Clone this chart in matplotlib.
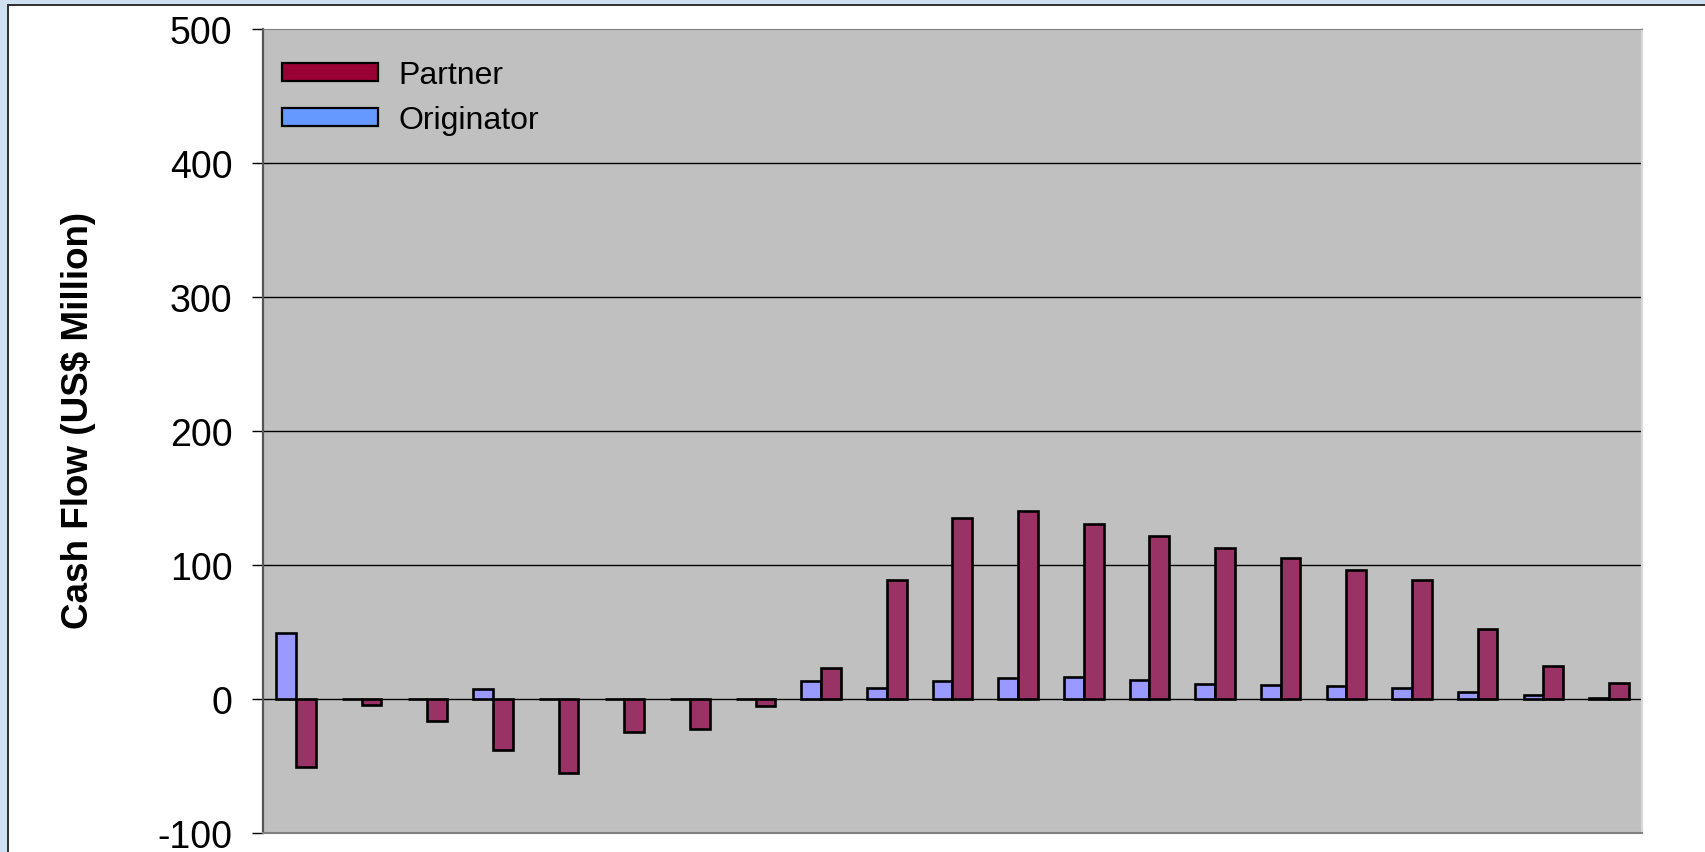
import numpy as np
import matplotlib.pyplot as plt
from matplotlib.patches import Rectangle, Patch

# yearly cash flow, US$ million
originator = [49.5, 0, 0, 7.5, 0, 0, 0, 0, 13.4, 8.5, 13.4, 15.4, 16.2, 14.4,
              10.9, 10.2, 9.5, 8.5, 5.0, 2.7, 0.5]
partner = [-51, -4.5, -16.6, -37.8, -55, -25, -22.6, -5.2, 22.9, 88.6, 135,
           140, 130.6, 121.4, 112.7, 105, 96.5, 88.8, 52, 24.6, 12]
yticks = [-100, 0, 100, 200, 300, 400, 500]

plt.rcParams['font.family'] = ['Liberation Sans', 'DejaVu Sans']
plt.rcParams['axes.unicode_minus'] = False

fig = plt.figure(figsize=(17.05, 8.53), dpi=100)
ax = fig.add_axes([0.1543, 0.0223, 0.963 - 0.1543, 0.9648 - 0.0223])
ax.set_facecolor('#c0c0c0')

x = np.arange(len(partner))
w = 0.3
ax.bar(x - w / 2, originator, w, color='#9999ff', edgecolor='black',
       linewidth=1.9, zorder=3)
ax.bar(x + w / 2, partner, w, color='#993366', edgecolor='black',
       linewidth=1.9, zorder=3)

ax.set_xlim(-0.5, len(partner) - 0.5)
ax.set_ylim(-100, 500)
ax.set_yticks(yticks)
ax.set_xticks([])
ax.tick_params(axis='y', labelsize=27, length=8, width=1, pad=14,
               color='black')
for v in yticks[1:-1]:
    ax.axhline(v, color='black', linewidth=1, zorder=1)

ax.spines['left'].set_color('#555555')
ax.spines['left'].set_linewidth(1.6)
ax.spines['top'].set_color('#808080')
ax.spines['bottom'].set_color('#808080')
ax.spines['bottom'].set_linewidth(1.5)
ax.spines['right'].set_color('#d8d8d8')
ax.spines['right'].set_linewidth(1.5)

ax.set_ylabel('Cash Flow (US$ Million)', fontsize=26.5, fontweight='bold')
ax.yaxis.set_label_coords(-0.121, 0.515)

handles = [Patch(facecolor='#990033', edgecolor='black', linewidth=1.6),
           Patch(facecolor='#6699ff', edgecolor='black', linewidth=1.6)]
ax.legend(handles, ['Partner', 'Originator'], loc='upper left',
          bbox_to_anchor=(0.0138, 0.961), frameon=False, fontsize=23,
          handlelength=3.0, handleheight=0.5, handletextpad=0.63,
          labelspacing=0.46, borderaxespad=0, borderpad=0)

# outer frame: light blue band with a dark rule along top and left
fw, fh = 1705, 853
fig.add_artist(Rectangle((0, 1 - 5 / fh), 1, 5 / fh, transform=fig.transFigure,
                         facecolor='#cfe0f1', edgecolor='none'))
fig.add_artist(Rectangle((0, 0), 7 / fw, 1, transform=fig.transFigure,
                         facecolor='#cfe0f1', edgecolor='none'))
fig.add_artist(Rectangle((7 / fw, 1 - 7 / fh), 1, 2 / fh,
                         transform=fig.transFigure, facecolor='#333333',
                         edgecolor='none'))
fig.add_artist(Rectangle((7 / fw, 0), 2 / fw, 1 - 5 / fh,
                         transform=fig.transFigure, facecolor='#333333',
                         edgecolor='none'))

fig.savefig('out.png', dpi=100)
